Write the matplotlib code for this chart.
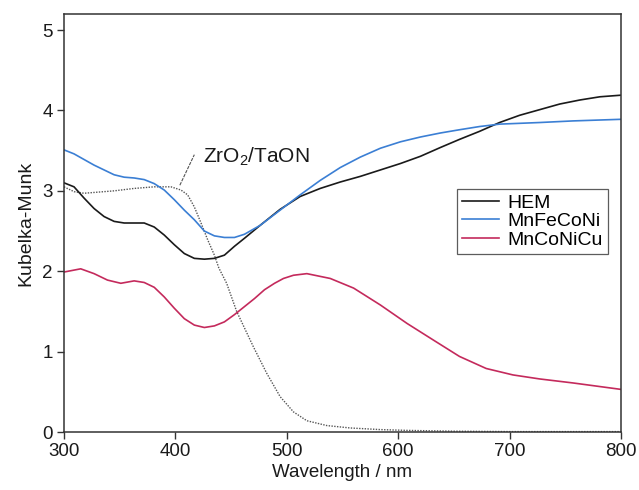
import matplotlib
matplotlib.use("Agg")
import matplotlib.pyplot as plt

plt.rcParams['font.family'] = ['Liberation Sans', 'DejaVu Sans']
plt.rcParams['mathtext.fontset'] = 'custom'
plt.rcParams['mathtext.rm'] = 'Liberation Sans'
plt.rcParams['mathtext.it'] = 'Liberation Sans:italic'

# ---- data ----
hem_wl = [300, 309, 318, 327, 336, 345, 354, 363, 372, 381, 390, 399, 408, 417, 426,
          435, 444, 453, 462, 476, 494, 512, 530, 548, 566, 584, 602, 620, 638, 655,
          673, 691, 709, 727, 745, 763, 781, 800]
hem_km = [3.10, 3.05, 2.91, 2.78, 2.68, 2.62, 2.60, 2.60, 2.60, 2.55, 2.45, 2.33, 2.22,
          2.16, 2.15, 2.16, 2.20, 2.31, 2.41, 2.57, 2.77, 2.93, 3.03, 3.11, 3.18, 3.26,
          3.34, 3.43, 3.54, 3.64, 3.74, 3.85, 3.94, 4.01, 4.08, 4.13, 4.17, 4.19]

fe_wl = [300, 309, 318, 327, 336, 345, 354, 363, 372, 381, 390, 399, 408, 417, 426,
         435, 444, 453, 462, 476, 494, 512, 530, 548, 566, 584, 602, 620, 638, 655,
         673, 691, 709, 727, 757, 800]
fe_km = [3.51, 3.46, 3.39, 3.32, 3.26, 3.20, 3.17, 3.16, 3.14, 3.09, 3.01, 2.89, 2.76,
         2.64, 2.50, 2.44, 2.42, 2.42, 2.46, 2.57, 2.76, 2.95, 3.13, 3.29, 3.42, 3.53,
         3.61, 3.67, 3.72, 3.76, 3.80, 3.83, 3.84, 3.85, 3.87, 3.89]

cu_wl = [300, 315, 327, 339, 351, 363, 372, 381, 390, 399, 408, 417, 426, 435, 444,
         453, 462, 471, 480, 489, 497, 506, 518, 539, 560, 584, 608, 632, 655, 679,
         703, 727, 757, 800]
cu_km = [1.99, 2.03, 1.97, 1.89, 1.85, 1.88, 1.86, 1.80, 1.68, 1.54, 1.41, 1.33, 1.30,
         1.32, 1.37, 1.46, 1.56, 1.66, 1.77, 1.85, 1.91, 1.95, 1.97, 1.91, 1.79, 1.58,
         1.35, 1.14, 0.94, 0.79, 0.71, 0.66, 0.61, 0.53]

ref_wl = [300, 309, 318, 327, 345, 363, 381, 396, 405, 411, 417, 423, 429, 435, 439,
          446, 455, 470, 482, 494, 506, 518, 536, 557, 584, 608, 650, 700, 800]
ref_km = [3.05, 2.99, 2.97, 2.98, 3.00, 3.03, 3.05, 3.05, 3.01, 2.95, 2.80, 2.60, 2.39,
          2.20, 2.04, 1.85, 1.50, 1.06, 0.73, 0.44, 0.25, 0.14, 0.08, 0.05, 0.03, 0.02,
          0.01, 0.005, 0.005]

labels = ['HEM', 'MnFeCoNi', 'MnCoNiCu']
ref_label = 'ZrO$_2$/TaON'
x_ticks = [300, 400, 500, 600, 700, 800]
y_ticks = [0, 1, 2, 3, 4, 5]

# ---- figure ----
fig = plt.figure(figsize=(6.39, 4.90), dpi=100)
ax = fig.add_axes([64/639, 58/490, 557/639, 418/490])

ax.plot(ref_wl, ref_km, color='#555555', lw=1.0, ls=(0, (1, 1)))
ax.plot(hem_wl, hem_km, color='#1a1a1a', lw=1.2, label=labels[0])
ax.plot(fe_wl, fe_km, color='#3b7fd4', lw=1.2, label=labels[1])
ax.plot(cu_wl, cu_km, color='#c42a5c', lw=1.2, label=labels[2])

# leader line + label
ax.plot([404, 417], [3.07, 3.45], color='#555555', lw=0.8, ls=(0, (3, 1)))
ax.text(425, 3.42, ref_label, fontsize=15, ha='left', va='center', color='#1a1a1a')

ax.set_xlim(300, 800)
ax.set_ylim(0, 5.2)
ax.set_xticks(x_ticks)
ax.set_yticks(y_ticks)
ax.tick_params(direction='out', length=5, width=1, labelsize=13.5, color='#333333',
               labelcolor='#1a1a1a', pad=3)
for s in ax.spines.values():
    s.set_color('#333333')
    s.set_linewidth(1.1)

ax.set_xlabel('Wavelength / nm', fontsize=13.5, color='#1a1a1a', labelpad=3)
ax.set_ylabel('Kubelka-Munk', fontsize=14, color='#1a1a1a', labelpad=6)

leg = ax.legend(loc='upper right', bbox_to_anchor=(0.9767, 0.581), fontsize=14,
                frameon=True, fancybox=False, edgecolor='#333333', handlelength=1.9,
                handletextpad=0.45, labelspacing=0.05, borderpad=0.25,
                borderaxespad=0)
leg.get_frame().set_linewidth(0.9)

fig.savefig('out.png', dpi=100)
